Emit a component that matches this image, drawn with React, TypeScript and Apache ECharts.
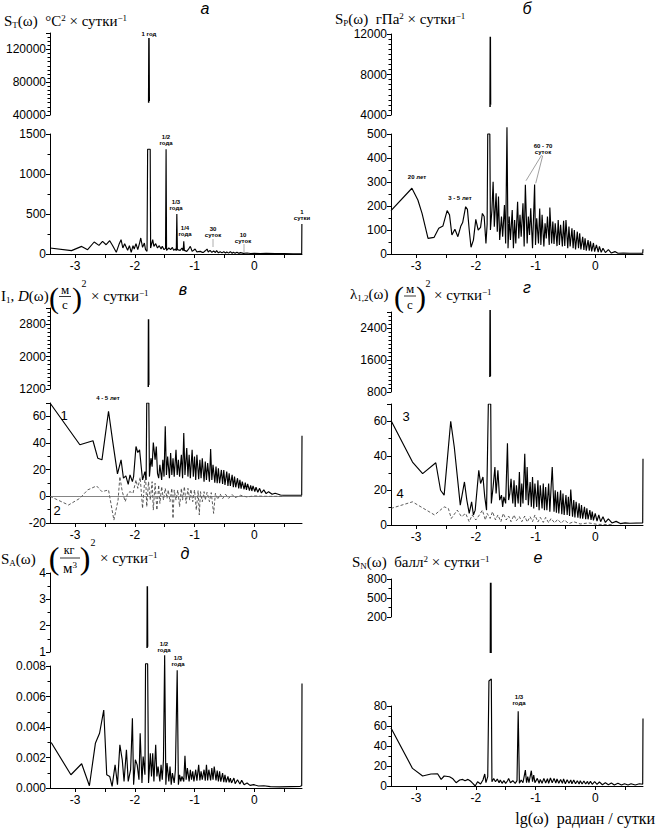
import React, { useEffect, useRef } from "react";
import * as echarts from "echarts";

const SERIF = '"Liberation Serif", "Times New Roman", serif';
const SANS = '"Liberation Sans", Arial, sans-serif';

const X_MIN = -3.42;
const X_MAX = 0.8;
const xLabelValues = [-3, -2, -1, 0];
const xTickValues = [-3, -2.5, -2, -1.5, -1, -0.5, 0, 0.5];

// ---- а: temperature spectrum S_T ----
const tempPeak = [[-1.768, 55000], [-1.763, 134000], [-1.758, 57000]];
const tempSpec = [
  [-3.42, 75], [-3.06, 42], [-2.89, 95], [-2.79, 54], [-2.68, 150], [-2.6, 108], [-2.54, 158], [-2.48, 116],
  [-2.42, 166], [-2.37, 104], [-2.31, 21], [-2.26, 129], [-2.23, 179], [-2.2, 75], [-2.17, 129], [-2.12, 46],
  [-2.09, 104], [-2.06, 21], [-2.03, 104], [-2.01, 62], [-1.98, 129], [-1.95, 54], [-1.92, 137], [-1.9, 200],
  [-1.87, 83], [-1.84, 137], [-1.82, 54], [-1.795, 33], [-1.785, 1310], [-1.742, 1310], [-1.735, 75],
  [-1.7, 179], [-1.68, 96], [-1.65, 129], [-1.62, 75], [-1.59, 104], [-1.56, 62], [-1.54, 96], [-1.51, 54],
  [-1.485, 70], [-1.476, 1310], [-1.468, 45], [-1.43, 75], [-1.4, 54], [-1.37, 83], [-1.35, 45], [-1.32, 62],
  [-1.305, 40], [-1.296, 500], [-1.287, 54], [-1.24, 45], [-1.21, 75], [-1.19, 40], [-1.18, 158], [-1.17, 45],
  [-1.13, 33], [-1.1, 60], [-1.07, 96], [-1.04, 33], [-1.01, 50], [-0.99, 62], [-0.96, 25], [-0.94, 29],
  [-0.9, 33], [-0.87, 20], [-0.85, 21], [-0.82, 40], [-0.79, 62], [-0.77, 25], [-0.74, 45], [-0.71, 20],
  [-0.68, 37], [-0.65, 18], [-0.63, 42], [-0.6, 15], [-0.57, 29], [-0.54, 14], [-0.51, 29], [-0.48, 12],
  [-0.46, 25], [-0.43, 11], [-0.4, 29], [-0.37, 10], [-0.35, 21], [-0.32, 9], [-0.29, 21], [-0.26, 8],
  [-0.23, 17], [-0.18, 8], [-0.12, 12], [-0.06, 6], [0, 8], [0.1, 5], [0.2, 8], [0.35, 4], [0.5, 4],
  [0.65, 3], [0.795, 4], [0.798, 374],
];

// ---- б: pressure spectrum S_P ----
const pressPeak = [[-1.761, 4800], [-1.757, 11740], [-1.753, 5000]];
const pressSpec = [
  [-3.42, 181], [-3.07, 274], [-2.97, 225], [-2.9, 169], [-2.8, 65], [-2.7, 69], [-2.62, 107], [-2.55, 117],
  [-2.48, 181], [-2.44, 163], [-2.4, 79], [-2.35, 103], [-2.3, 72], [-2.25, 117], [-2.22, 131], [-2.17, 197],
  [-2.14, 186], [-2.11, 100], [-2.08, 28], [-2.04, 58], [-2.0, 144], [-1.96, 100], [-1.92, 111], [-1.89, 169],
  [-1.86, 156], [-1.83, 44], [-1.81, 125], [-1.8, 500], [-1.765, 500], [-1.755, 100], [-1.73, 183],
  [-1.71, 301], [-1.69, 114], [-1.66, 253], [-1.64, 93], [-1.62, 239], [-1.6, 58], [-1.57, 156], [-1.55, 72],
  [-1.52, 204], [-1.5, 44], [-1.478, 528], [-1.46, 24], [-1.44, 156], [-1.42, 58], [-1.39, 183], [-1.37, 24],
  [-1.35, 142], [-1.33, 44], [-1.3, 218], [-1.28, 65], [-1.26, 163], [-1.24, 72], [-1.21, 211], [-1.19, 31],
  [-1.17, 288], [-1.14, 44], [-1.12, 156], [-1.1, 79], [-1.08, 190], [-1.05, 24], [-1.03, 176], [-1.015, 290],
  [-1.0, 38], [-0.98, 149], [-0.95, 44], [-0.93, 190], [-0.91, 38], [-0.89, 163], [-0.86, 31], [-0.84, 128],
  [-0.82, 65], [-0.8, 156], [-0.77, 38], [-0.76, 194], [-0.73, 44], [-0.71, 135], [-0.69, 42], [-0.67, 128],
  [-0.64, 33], [-0.62, 142], [-0.6, 38], [-0.58, 122], [-0.55, 31], [-0.53, 138], [-0.51, 33], [-0.49, 142],
  [-0.46, 24], [-0.44, 114], [-0.42, 31], [-0.39, 107], [-0.37, 24], [-0.35, 100], [-0.33, 19], [-0.3, 93],
  [-0.28, 24], [-0.26, 86], [-0.24, 19], [-0.21, 72], [-0.19, 17], [-0.17, 65], [-0.15, 14], [-0.12, 58],
  [-0.1, 14], [-0.08, 53], [-0.06, 11], [-0.03, 46], [-0.01, 10], [0.02, 38], [0.05, 8], [0.07, 32],
  [0.1, 7], [0.13, 24], [0.17, 6], [0.22, 18], [0.27, 4], [0.33, 10], [0.38, 3], [0.47, 4], [0.58, 3],
  [0.795, 3], [0.8, 20],
];

// ---- в: wind invariants I1 (1) and D (2) ----
const windIPeak = [[-1.774, 1250], [-1.77, 2920], [-1.766, 1300]];
const windI1 = [
  [-3.42, 70], [-2.92, 38.7], [-2.7, 41.7], [-2.62, 28.6], [-2.55, 27.4], [-2.44, 63.8], [-2.37, 41.2],
  [-2.29, 16.8], [-2.23, 27.4], [-2.19, 13.6], [-2.15, 15.3], [-2.11, 9], [-2.08, 16.1], [-2.04, 11],
  [-2.02, 14.8], [-1.98, 37.4], [-1.95, 32.9], [-1.92, 34.9], [-1.89, 21.1], [-1.87, 12.3], [-1.83, 18.6],
  [-1.81, 12.3], [-1.8, 70], [-1.765, 70], [-1.755, 14.8], [-1.73, 28.6], [-1.71, 22.3], [-1.69, 40.4],
  [-1.66, 27.4], [-1.64, 37.4], [-1.62, 17.3], [-1.6, 13.6], [-1.58, 23.6], [-1.55, 12.3], [-1.53, 27.4],
  [-1.51, 14.8], [-1.49, 52.5], [-1.47, 16], [-1.45, 29.9], [-1.42, 13.6], [-1.4, 32.4], [-1.38, 16],
  [-1.36, 28.6], [-1.34, 14.8], [-1.31, 34.9], [-1.29, 16], [-1.27, 27.4], [-1.25, 14.8], [-1.22, 31.1],
  [-1.2, 13.6], [-1.18, 47.5], [-1.16, 16], [-1.13, 36.2], [-1.11, 14.8], [-1.09, 31.1], [-1.07, 13.6],
  [-1.04, 34.9], [-1.02, 14.8], [-1.0, 29.9], [-0.98, 12.3], [-0.96, 31.1], [-0.93, 12.8], [-0.91, 27.4],
  [-0.89, 13.6], [-0.87, 28.6], [-0.84, 11], [-0.82, 26.1], [-0.8, 12.3], [-0.78, 24.9], [-0.75, 11],
  [-0.73, 35.4], [-0.71, 12.3], [-0.69, 23.6], [-0.66, 10.3], [-0.64, 22.3], [-0.62, 9.8], [-0.6, 21.1],
  [-0.58, 9.8], [-0.55, 19.8], [-0.53, 9.3], [-0.51, 19.8], [-0.49, 8.5], [-0.46, 18.6], [-0.44, 7.8],
  [-0.42, 17.3], [-0.4, 7.8], [-0.37, 16.1], [-0.35, 6.8], [-0.33, 14.8], [-0.31, 6.8], [-0.28, 13.6],
  [-0.26, 6], [-0.24, 12.3], [-0.22, 5.8], [-0.2, 11], [-0.17, 5.3], [-0.15, 10.3], [-0.13, 4.8],
  [-0.11, 9.3], [-0.08, 4.3], [-0.06, 8.3], [-0.04, 4], [-0.02, 7.8], [0.01, 3.5], [0.03, 6.8], [0.06, 3],
  [0.09, 6], [0.12, 2.5], [0.16, 4.8], [0.2, 2], [0.24, 3.5], [0.3, 1.5], [0.35, 2.3], [0.44, 1],
  [0.49, 0.8], [0.795, 0.8], [0.8, 45.5],
];
const windD = [
  [-3.42, 0], [-3.11, -6.5], [-2.92, -1.5], [-2.79, 4.8], [-2.64, 7.8], [-2.55, 3.5], [-2.44, 4.8],
  [-2.35, -17.8], [-2.28, -2.8], [-2.25, 14.8], [-2.21, 3.5], [-2.16, -4], [-2.12, 2.3], [-2.08, 3.5],
  [-2.03, 2.3], [-1.98, 12.3], [-1.95, 6], [-1.91, 14.3], [-1.87, -9], [-1.84, 8.5], [-1.82, 16],
  [-1.8, -7.8], [-1.77, 11], [-1.74, -2.8], [-1.71, 11], [-1.69, -10.3], [-1.66, 9.8], [-1.63, -10.3],
  [-1.6, 8.5], [-1.58, -5.3], [-1.55, 7.3], [-1.52, -2.8], [-1.49, 6], [-1.46, -1.5], [-1.44, 4.8],
  [-1.41, -4], [-1.38, 6], [-1.36, -16.6], [-1.34, 4.8], [-1.31, -2.8], [-1.28, 4.8], [-1.25, -7.8],
  [-1.22, 6], [-1.2, -2.8], [-1.17, 7.3], [-1.14, -5.3], [-1.11, 6], [-1.08, -2.8], [-1.06, 5.3],
  [-1.03, -4], [-1.0, 4.8], [-0.97, -10.3], [-0.94, 4.3], [-0.92, -14], [-0.9, 3.5], [-0.87, -4],
  [-0.84, 3.5], [-0.82, -2.8], [-0.79, 3], [-0.75, -4], [-0.72, 2.8], [-0.68, -12.8], [-0.65, 2.3],
  [-0.61, -2.3], [-0.57, 1.8], [-0.53, -1.8], [-0.48, 1.5], [-0.43, -1.5], [-0.37, 1.3], [-0.32, -1],
  [-0.23, 0.8], [-0.12, -0.5], [-0.01, 0.3], [0.21, 0], [0.49, 0],
];

// ---- г: wind eigenvalues λ1 (3) and λ2 (4) ----
const windLPeak = [[-1.764, 1175], [-1.76, 2850], [-1.756, 1200]];
const windL1 = [
  [-3.42, 60.4], [-3.06, 36.4], [-2.89, 29.7], [-2.67, 36], [-2.59, 20.1], [-2.53, 17.3], [-2.42, 60],
  [-2.36, 45], [-2.26, 11.5], [-2.19, 24.9], [-2.15, 14.4], [-2.11, 6.7], [-2.07, 13.4], [-2.04, 5.8],
  [-2.01, 8.6], [-1.95, 31.6], [-1.92, 24], [-1.88, 27.8], [-1.85, 16.3], [-1.82, 8.6], [-1.79, 70],
  [-1.75, 70], [-1.74, 12.5], [-1.71, 22], [-1.68, 33.5], [-1.66, 18.2], [-1.63, 31.6], [-1.6, 14.4],
  [-1.57, 17.3], [-1.55, 10.5], [-1.53, 16.3], [-1.5, 12.5], [-1.47, 47.3], [-1.45, 14.4], [-1.43, 18.2],
  [-1.41, 26.8], [-1.38, 12.5], [-1.36, 25.9], [-1.34, 10.5], [-1.32, 23], [-1.29, 12.5], [-1.27, 30.7],
  [-1.25, 10.5], [-1.23, 24], [-1.21, 12.5], [-1.18, 41.2], [-1.16, 14.4], [-1.14, 33.5], [-1.12, 11.5],
  [-1.09, 24.9], [-1.07, 10.5], [-1.05, 27.8], [-1.03, 9.6], [-1.01, 24], [-0.98, 10.5], [-0.96, 25.9],
  [-0.94, 8.6], [-0.92, 23], [-0.89, 9.6], [-0.87, 24], [-0.85, 8.6], [-0.83, 22], [-0.81, 8.6],
  [-0.78, 24], [-0.76, 7.7], [-0.74, 21.1], [-0.72, 33.5], [-0.69, 7.7], [-0.67, 20.1], [-0.65, 7.1],
  [-0.63, 19.2], [-0.61, 6.7], [-0.58, 20.1], [-0.56, 6.3], [-0.54, 18.2], [-0.52, 5.8], [-0.49, 17.3],
  [-0.47, 5.8], [-0.45, 16.3], [-0.43, 5.2], [-0.41, 20.5], [-0.38, 4.8], [-0.36, 14.4], [-0.34, 4.4],
  [-0.32, 13.4], [-0.29, 4.2], [-0.27, 12.5], [-0.25, 3.8], [-0.23, 11.5], [-0.21, 3.6], [-0.18, 10.5],
  [-0.16, 3.3], [-0.14, 9.6], [-0.12, 3.3], [-0.09, 8.6], [-0.07, 2.9], [-0.05, 7.7], [-0.03, 2.7],
  [0.0, 6.7], [0.03, 2.3], [0.06, 5.8], [0.09, 1.9], [0.13, 4.8], [0.17, 1.5], [0.22, 3.5], [0.28, 1.2],
  [0.35, 2.1], [0.42, 0.8], [0.5, 1.2], [0.58, 1], [0.795, 1.2], [0.8, 38.3],
];
const windL2 = [
  [-3.42, 9.6], [-3.06, 13.4], [-2.69, 5.8], [-2.53, 10.5], [-2.46, 9.6], [-2.41, 3.8], [-2.31, 8.6],
  [-2.24, 4.8], [-2.17, 6.7], [-2.11, 1.9], [-2.06, 5.8], [-2.0, 2.9], [-1.94, 5.8], [-1.89, 8.6],
  [-1.84, 2.9], [-1.81, 6.7], [-1.76, 3.8], [-1.72, 7.7], [-1.67, 2.9], [-1.63, 5.8], [-1.58, 1.9],
  [-1.54, 6.7], [-1.49, 2.9], [-1.45, 5.2], [-1.41, 1.9], [-1.36, 5.8], [-1.32, 2.5], [-1.27, 4.8],
  [-1.23, 1.9], [-1.18, 5.2], [-1.14, 1.7], [-1.09, 4.8], [-1.05, 1.9], [-1.01, 5.8], [-0.96, 1.7],
  [-0.92, 4.4], [-0.87, 1.5], [-0.83, 4.4], [-0.78, 1.3], [-0.74, 3.8], [-0.68, 1.2], [-0.63, 3.3],
  [-0.57, 1], [-0.52, 2.9], [-0.44, 0.8], [-0.36, 1.9], [-0.25, 0.6], [-0.11, 1.2], [0.03, 0.4], [0.31, 0.2],
];

// ---- д: density spectrum S_A ----
const densPeak = [[-1.794, 1.15], [-1.79, 3.5], [-1.786, 1.2]];
const densSpec = [
  [-3.4, 0.00298], [-3.07, 0.00087], [-2.89, 0.00159], [-2.76, 0.00015], [-2.66, 0.00293], [-2.59, 0.00359],
  [-2.52, 0.00511], [-2.47, 0.00087], [-2.42, 0.00076], [-2.38, 0.00011], [-2.33, 0.00152], [-2.29, 0.00022],
  [-2.25, 0.00283], [-2.21, 0.00185], [-2.18, 0.00043], [-2.14, 0.0025], [-2.11, 0.00043], [-2.07, 0.0012],
  [-2.04, 0.00457], [-2.02, 0.00022], [-1.99, 0.00185], [-1.96, 0.00152], [-1.93, 0.00054], [-1.91, 0.00359],
  [-1.88, 0.00033], [-1.86, 0.00207], [-1.83, 0.00087], [-1.82, 0.00815], [-1.785, 0.00815], [-1.77, 0.00033],
  [-1.74, 0.00228], [-1.72, 0.00076], [-1.7, 0.00228], [-1.68, 0.00043], [-1.65, 0.00283], [-1.63, 0.00076],
  [-1.61, 0.00141], [-1.58, 0.00043], [-1.56, 0.00152], [-1.54, 0.00054], [-1.52, 0.00185], [-1.5, 0.0087],
  [-1.48, 0.00022], [-1.46, 0.00163], [-1.43, 0.00043], [-1.41, 0.00141], [-1.39, 0.00022], [-1.37, 0.00098],
  [-1.34, 0.00033], [-1.32, 0.0012], [-1.29, 0.00772], [-1.27, 0.00022], [-1.25, 0.00087], [-1.23, 0.00043],
  [-1.21, 0.00076], [-1.18, 0.00043], [-1.16, 0.00211], [-1.14, 0.00054], [-1.12, 0.0013], [-1.09, 0.00043],
  [-1.07, 0.0012], [-1.05, 0.00054], [-1.03, 0.00109], [-1.01, 0.00043], [-0.98, 0.0012], [-0.96, 0.00048],
  [-0.93, 0.00152], [-0.91, 0.0005], [-0.89, 0.00109], [-0.87, 0.00054], [-0.84, 0.0012], [-0.82, 0.00048],
  [-0.8, 0.00152], [-0.78, 0.0005], [-0.76, 0.0012], [-0.73, 0.0005], [-0.71, 0.0013], [-0.69, 0.00054],
  [-0.67, 0.00141], [-0.64, 0.0005], [-0.62, 0.00115], [-0.6, 0.00043], [-0.58, 0.00109], [-0.56, 0.00041],
  [-0.53, 0.00098], [-0.51, 0.00039], [-0.49, 0.00087], [-0.47, 0.00037], [-0.44, 0.00076], [-0.42, 0.00037],
  [-0.4, 0.00065], [-0.38, 0.00033], [-0.34, 0.00065], [-0.32, 0.00028], [-0.28, 0.00054], [-0.24, 0.00026],
  [-0.21, 0.0005], [-0.17, 0.00022], [-0.12, 0.00033], [-0.07, 0.00017], [-0.01, 0.00022], [0.07, 0.00013],
  [0.16, 0.00015], [0.27, 0.00009], [0.43, 0.00007], [0.6, 0.00009], [0.77, 0.00011], [0.795, 0.00015],
  [0.8, 0.00685],
];

// ---- е: cloudiness spectrum S_N ----
const cloudPeak = [[-1.753, -370], [-1.75, 740], [-1.747, -370]];
const cloudSpec = [
  [-3.42, 58.1], [-3.06, 17.6], [-2.89, 10], [-2.75, 12], [-2.64, 12.3], [-2.58, 6.6], [-2.53, 10],
  [-2.44, 9.3], [-2.39, 7.6], [-2.33, 3.3], [-2.27, 6], [-2.22, 6.6], [-2.18, 5.3], [-2.13, 6.6],
  [-2.09, 5], [-2.05, 2.7], [-2.01, 0], [-1.97, 4.3], [-1.92, 2], [-1.88, 6], [-1.85, 12], [-1.83, 3.3],
  [-1.8, 9.3], [-1.78, 105], [-1.74, 107], [-1.73, 4.3], [-1.7, 7.6], [-1.67, 4.3], [-1.64, 7],
  [-1.61, 3.3], [-1.59, 6], [-1.56, 2.7], [-1.53, 5.3], [-1.5, 2.7], [-1.47, 5], [-1.45, 7.6], [-1.42, 3.3],
  [-1.38, 5.3], [-1.34, 2.7], [-1.31, 5.3], [-1.29, 74.7], [-1.27, 2.7], [-1.24, 6], [-1.21, 3.3],
  [-1.17, 15.9], [-1.15, 3.3], [-1.13, 9.3], [-1.11, 3.3], [-1.07, 15.3], [-1.05, 4.3], [-1.03, 11],
  [-1.01, 3.3], [-0.97, 7.6], [-0.94, 2.7], [-0.92, 6.6], [-0.89, 2.7], [-0.86, 7.6], [-0.83, 3],
  [-0.8, 7.3], [-0.78, 2.7], [-0.75, 8], [-0.72, 3.3], [-0.69, 7.6], [-0.66, 3], [-0.64, 7], [-0.61, 2.7],
  [-0.58, 6.6], [-0.55, 2.7], [-0.53, 7], [-0.5, 2.3], [-0.47, 6.3], [-0.44, 2.7], [-0.41, 6], [-0.39, 2.3],
  [-0.36, 6], [-0.33, 2.3], [-0.3, 5.3], [-0.27, 2], [-0.25, 5.3], [-0.22, 2], [-0.19, 5], [-0.16, 2],
  [-0.13, 4.6], [-0.11, 1.7], [-0.08, 4.6], [-0.05, 1.7], [-0.01, 4.3], [0.03, 1.7], [0.07, 4], [0.12, 1.3],
  [0.17, 3.3], [0.22, 1.3], [0.27, 3], [0.32, 1], [0.38, 2.7], [0.44, 1], [0.49, 2.3], [0.55, 1], [0.6, 2.3],
  [0.67, 1], [0.74, 2.3], [0.795, 1.7], [0.8, 67.4],
];

// ---- layout of the 6 panels (each: upper / lower broken-axis part) ----
const panels = [
  { left: 50, upper: { top: 33, h: 82, min: 40000, max: 140000, step: 40000, minor: 8, dec: 0 }, lower: { top: 134, h: 120, min: 0, max: 1500, step: 500, minor: 2, dec: 0 } },
  { left: 391, upper: { top: 34, h: 81, min: 4000, max: 12000, step: 4000, minor: 8, dec: 0 }, lower: { top: 134, h: 120, min: 0, max: 500, step: 100, minor: 2, dec: 0 } },
  { left: 50, upper: { top: 308, h: 81, min: 1200, max: 3200, step: 800, minor: 8, dec: 0 }, lower: { top: 403, h: 120, min: -20, max: 70, step: 20, minor: 2, dec: 0 } },
  { left: 391, upper: { top: 312, h: 80, min: 800, max: 2800, step: 800, minor: 8, dec: 0 }, lower: { top: 404, h: 121, min: 0, max: 70, step: 20, minor: 2, dec: 0 } },
  { left: 50, upper: { top: 573, h: 79, min: 1, max: 4, step: 1, minor: 2, dec: 0 }, lower: { top: 666, h: 122, min: 0, max: 0.008, step: 0.002, minor: 2, dec: 3 } },
  { left: 391, upper: { top: 579, h: 38, min: 200, max: 800, step: 300, minor: 2, dec: 0 }, lower: { top: 706, h: 80, min: 0, max: 80, step: 20, minor: 2, dec: 0 } },
];
const PLOT_W = 252;

function buildAxes() {
  const grids: any[] = [];
  const xAxes: any[] = [];
  const yAxes: any[] = [];
  panels.forEach((p, pi) => {
    [p.upper, p.lower].forEach((c, si) => {
      const idx = pi * 2 + si;
      grids.push({ left: p.left, top: c.top, width: PLOT_W, height: c.h, containLabel: false, outerBoundsMode: "none" });
      if (si === 0) {
        xAxes.push({ type: "value", gridIndex: idx, min: X_MIN, max: X_MAX, show: false });
      } else {
        xAxes.push({
          type: "value", gridIndex: idx, min: X_MIN, max: X_MAX,
          axisLine: { show: true, onZero: false, lineStyle: { color: "#000", width: 1 } },
          axisTick: { show: true, length: 4, customValues: xTickValues, lineStyle: { color: "#000" } },
          minorTick: { show: false },
          axisLabel: { show: true, customValues: xLabelValues, fontSize: 12, fontFamily: SANS, color: "#000", margin: 6 },
          splitLine: { show: false },
        });
      }
      const cmin = c.min, cstep = c.step, dec = c.dec;
      yAxes.push({
        type: "value", gridIndex: idx, min: c.min, max: c.max, interval: c.step,
        axisLine: { show: true, onZero: false, lineStyle: { color: "#000", width: 1 } },
        axisTick: { show: true, length: 4, lineStyle: { color: "#000" } },
        minorTick: { show: true, splitNumber: c.minor, length: 2.5, lineStyle: { color: "#000" } },
        axisLabel: {
          show: true, fontSize: 12, fontFamily: SANS, color: "#000", margin: 4,
          formatter: (v: number) => {
            const k = (v - cmin) / cstep;
            if (Math.abs(k - Math.round(k)) > 1e-6) return "";
            return dec ? v.toFixed(dec) : String(Math.round(v));
          },
        },
        splitLine: { show: false },
        minorSplitLine: { show: false },
      });
    });
  });
  return { grids, xAxes, yAxes };
}

function ln(idx: number, data: number[][], extra: any = {}) {
  return {
    type: "line", xAxisIndex: idx, yAxisIndex: idx, data,
    showSymbol: false, symbol: "none", silent: true, animation: false,
    lineStyle: { color: "#000", width: 1.15 },
    ...extra,
  };
}

const rich = {
  b: { fontFamily: SERIF, fontSize: 15, lineHeight: 16, verticalAlign: "middle", fill: "#000" },
  i: { fontFamily: SERIF, fontSize: 15, fontStyle: "italic", lineHeight: 16, verticalAlign: "middle", fill: "#000" },
  sub: { fontFamily: SERIF, fontSize: 9, lineHeight: 6, verticalAlign: "bottom", fill: "#000" },
  sup: { fontFamily: SERIF, fontSize: 9, lineHeight: 6, verticalAlign: "top", fill: "#000" },
};

function rt(text: string, x: number, y: number) {
  return { type: "text", x, y, silent: true, style: { text, rich, x: 0, y: 0, textAlign: "left", textVerticalAlign: "middle", align: "left", verticalAlign: "middle" } };
}
function tx(text: string, x: number, y: number, size: number, family = SERIF, extra: any = {}) {
  return {
    type: "text", x, y, silent: true,
    style: { text, x: 0, y: 0, fill: "#000", font: `${extra.italic ? "italic " : ""}${extra.bold ? "bold " : ""}${size}px ${family}`, textAlign: extra.align || "center", textVerticalAlign: "middle", align: extra.align || "center", verticalAlign: "middle", lineHeight: extra.lh || size + 2 },
  };
}
function seg(x1: number, y1: number, x2: number, y2: number, color = "#000", w = 1) {
  return { type: "line", silent: true, shape: { x1, y1, x2, y2 }, style: { stroke: color, lineWidth: w } };
}
const note = (t: string, x: number, y: number) => tx(t, x, y, 6, SANS, { bold: true, lh: 6 });

function buildGraphics() {
  const g: any[] = [];
  // titles
  g.push(rt("{b|S}{sub|T}{b|(ω)  °C}{sup|2}{b| × сутки}{sup|−1}", 4, 21));
  g.push(rt("{b|S}{sub|P}{b|(ω)  гПа}{sup|2}{b| × сутки}{sup|−1}", 335, 19));
  g.push(rt("{b|I}{sub|1}{b|, }{i|D}{b|(ω)}", 1, 296));
  g.push(tx("(", 54, 297, 30), tx("м", 65, 289, 13), seg(59, 296.5, 71, 296.5, "#000", 0.8), tx("с", 65, 304, 13), tx(")", 77, 297, 30), tx("2", 84, 283, 10));
  g.push(rt("{b|× сутки}{sup|−1}", 91, 296));
  g.push(rt("{b|λ}{sub|1,2}{b|(ω)}", 350, 294));
  g.push(tx("(", 399, 296, 30), tx("м", 410, 288, 13), seg(404, 296, 416, 296, "#000", 0.8), tx("с", 410, 304, 13), tx(")", 421, 296, 30), tx("2", 428, 283, 10));
  g.push(rt("{b|× сутки}{sup|−1}", 434, 295));
  g.push(rt("{b|S}{sub|A}{b|(ω)}", 1, 559));
  g.push(tx("(", 54, 558, 32), tx("кг", 69, 550, 12, SERIF, { lh: 12 }), seg(60, 558, 80, 558, "#000", 0.8), rt("{b|м}{sup|3}", 63, 568), tx(")", 85, 558, 32), tx("2", 93, 542, 10));
  g.push(rt("{b|× сутки}{sup|−1}", 100, 558));
  g.push(rt("{b|S}{sub|N}{b|(ω)  балл}{sup|2}{b| × сутки}{sup|−1}", 352, 562));
  // panel letters
  g.push(tx("а", 205, 8, 16, SANS, { italic: true }));
  g.push(tx("б", 527, 8, 16, SANS, { italic: true }));
  g.push(tx("в", 183, 289, 16, SANS, { italic: true }));
  g.push(tx("г", 527, 287, 16, SANS, { italic: true }));
  g.push(tx("д", 185, 553, 16, SANS, { italic: true }));
  g.push(tx("е", 538, 557, 16, SANS, { italic: true }));
  // x title
  g.push(tx("lg(ω)  радиан / сутки", 655, 818, 16, SERIF, { align: "right" }));
  // annotations а
  g.push(note("1 год", 149, 34), note("1/2\nгода", 166, 140), note("1/3\nгода", 176, 205), note("1/4\nгода", 185, 231));
  g.push(note("30\nсуток", 213, 232), note("10\nсуток", 243, 238), note("1\nсутки", 302, 215));
  g.push(seg(213, 239, 213, 247, "#999", 0.8), seg(244, 244, 244, 252, "#999", 0.8));
  // annotations б
  g.push(note("20 лет", 417, 177), note("3 - 5 лет", 460, 198), note("60 - 70\nсуток", 543, 149));
  g.push(seg(541.7, 155, 526, 180.7, "#888", 0.8), seg(542.7, 155.7, 535.7, 183.3, "#888", 0.8));
  // в, г, д, е
  g.push(note("4 - 5 лет", 108, 398));
  g.push(tx("1", 64, 415, 13, SANS), tx("2", 57, 510, 13, SANS), tx("3", 406, 416, 13, SANS), tx("4", 400, 493, 13, SANS));
  g.push(note("1/2\nгода", 164, 647), note("1/3\nгода", 178, 661));
  g.push(note("1/3\nгода", 519, 700));
  return g;
}

export default function App() {
  const ref = useRef<HTMLDivElement>(null);
  useEffect(() => {
    document.body.style.margin = "0";
    if (!ref.current) return;
    const chart = echarts.init(ref.current, undefined, { renderer: "svg" });
    const { grids, xAxes, yAxes } = buildAxes();
    const dashed = { lineStyle: { color: "#333", width: 0.8, type: [3, 2] } };
    const series = [
      ln(0, tempPeak, { lineStyle: { color: "#000", width: 1.5 } }),
      ln(1, tempSpec),
      ln(2, pressPeak, { lineStyle: { color: "#000", width: 1.5 } }),
      ln(3, pressSpec, { clip: false }),
      ln(4, windIPeak, { lineStyle: { color: "#000", width: 1.5 } }),
      ln(5, windD, {
        ...dashed,
        markLine: { silent: true, symbol: "none", label: { show: false }, lineStyle: { color: "#666", width: 0.8, type: "solid" }, data: [{ yAxis: 0 }] },
      }),
      ln(5, windI1),
      ln(6, windLPeak, { lineStyle: { color: "#000", width: 1.5 }, clip: false }),
      ln(7, windL2, dashed),
      ln(7, windL1),
      ln(8, densPeak, { lineStyle: { color: "#000", width: 1.5 } }),
      ln(9, densSpec, { clip: false }),
      ln(10, cloudPeak, { lineStyle: { color: "#000", width: 1.8 }, clip: false }),
      ln(11, cloudSpec, { clip: false }),
    ];
    chart.setOption({
      animation: false,
      backgroundColor: "#fff",
      grid: grids,
      xAxis: xAxes,
      yAxis: yAxes,
      series,
      graphic: { elements: buildGraphics() },
    });
    return () => chart.dispose();
  }, []);
  return <div ref={ref} style={{ width: 659, height: 832 }} />;
}
